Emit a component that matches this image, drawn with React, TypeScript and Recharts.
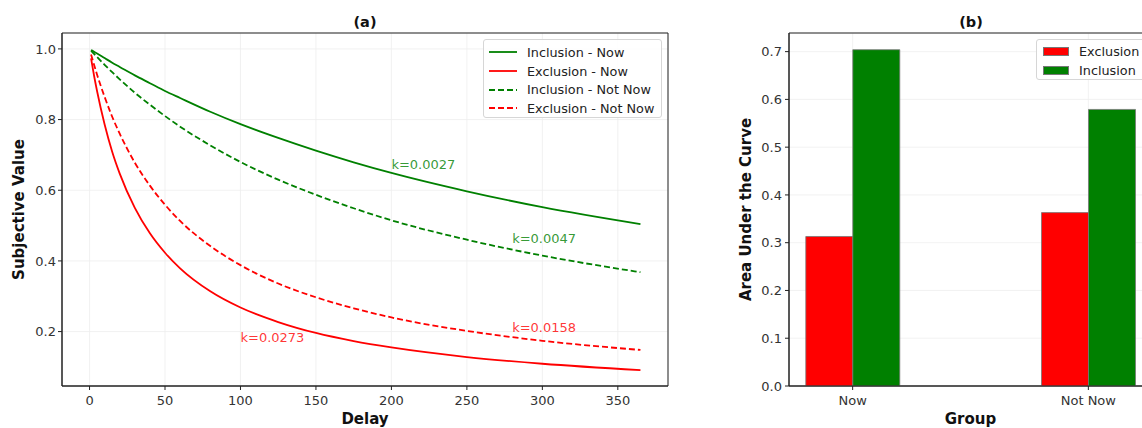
import React from 'react';
import {
  LineChart,
  Line,
  BarChart,
  Bar,
  XAxis,
  YAxis,
  CartesianGrid,
  ReferenceArea,
  ReferenceDot,
  Legend,
  Label,
} from 'recharts';

// delay in days
const delays = [1, 3, 5, 10, 15, 20, 30, 40, 50, 60, 80, 100, 125, 150, 175, 200, 250, 300, 365];
const inclusionNow = [0.997, 0.992, 0.987, 0.974, 0.961, 0.949, 0.925, 0.903, 0.881, 0.861, 0.822, 0.787, 0.748, 0.712, 0.679, 0.649, 0.597, 0.552, 0.504];
const exclusionNow = [0.973, 0.924, 0.88, 0.786, 0.709, 0.647, 0.55, 0.478, 0.423, 0.379, 0.314, 0.268, 0.227, 0.196, 0.173, 0.155, 0.128, 0.109, 0.091];
const inclusionNotNow = [0.995, 0.986, 0.977, 0.955, 0.934, 0.914, 0.876, 0.842, 0.81, 0.78, 0.727, 0.68, 0.63, 0.587, 0.549, 0.515, 0.46, 0.415, 0.368];
const exclusionNotNow = [0.984, 0.955, 0.927, 0.864, 0.808, 0.76, 0.678, 0.613, 0.559, 0.513, 0.442, 0.388, 0.336, 0.297, 0.266, 0.24, 0.202, 0.174, 0.148];

const kNotes = [
  { text: 'k=0.0027', delay: 200, value: 0.661, color: 'green' },
  { text: 'k=0.0047', delay: 280, value: 0.452, color: 'green' },
  { text: 'k=0.0158', delay: 280, value: 0.199, color: 'red' },
  { text: 'k=0.0273', delay: 100, value: 0.17, color: 'red' },
];

// panel (b)
const groups = ['Now', 'Not Now'];
const aucExclusion = [0.313, 0.363];
const aucInclusion = [0.704, 0.579];

const GREEN = '#008000';
const RED = '#ff0000';
const FONT = '"DejaVu Sans", sans-serif';
const tickStyle = { fontSize: 13, fill: '#333', fontFamily: FONT };
const titleStyle = { fontSize: 15, fontWeight: 700, fill: '#111', fontFamily: FONT };

const lineData = delays.map((d, i) => ({
  delay: d,
  inNow: inclusionNow[i],
  exNow: exclusionNow[i],
  inNot: inclusionNotNow[i],
  exNot: exclusionNotNow[i],
}));

const barData = groups.map((g, i) => ({
  pos: i,
  name: g,
  exclusion: aucExclusion[i],
  inclusion: aucInclusion[i],
}));

const lineSeries = [
  { key: 'inNow', name: 'Inclusion - Now', color: GREEN, dash: undefined },
  { key: 'exNow', name: 'Exclusion - Now', color: RED, dash: undefined },
  { key: 'inNot', name: 'Inclusion - Not Now', color: GREEN, dash: '6 3' },
  { key: 'exNot', name: 'Exclusion - Not Now', color: RED, dash: '6 3' },
];

const xTitle = (text: string) => (props: any) => {
  const vb = props.viewBox || {};
  return (
    <text x={vb.x + vb.width / 2} y={vb.y + vb.height - 4} textAnchor="middle" style={titleStyle}>
      {text}
    </text>
  );
};

const yTitle = (text: string, cx: number) => (props: any) => {
  const vb = props.viewBox || {};
  const cy = vb.y + vb.height / 2;
  return (
    <text
      x={cx}
      y={cy}
      transform={`rotate(-90 ${cx} ${cy})`}
      textAnchor="middle"
      dominantBaseline="central"
      style={titleStyle}
    >
      {text}
    </text>
  );
};

const noteLabel = (text: string, color: string) => (props: any) => {
  const vb = props.viewBox || {};
  return (
    <text x={vb.x} y={vb.y} fill={color} fillOpacity={0.8} fontSize={13} fontFamily={FONT}>
      {text}
    </text>
  );
};

const legendBox = {
  boxSizing: 'border-box' as const,
  border: '1px solid #d6d6d6',
  borderRadius: 3,
  background: 'rgba(255,255,255,0.85)',
  fontSize: 12.8,
  fontFamily: FONT,
  color: '#222',
};

const LineLegend = () => (
  <div style={{ ...legendBox, width: 179, height: 79, padding: '3px 0 0 5px' }}>
    {lineSeries.map((s) => (
      <div key={s.key} style={{ display: 'flex', alignItems: 'center', height: 18.7 }}>
        <svg width={28} height={10}>
          <line x1={0} y1={5} x2={28} y2={5} stroke={s.color} strokeWidth={1.8} strokeDasharray={s.dash} />
        </svg>
        <span style={{ marginLeft: 10, whiteSpace: 'nowrap' }}>{s.name}</span>
      </div>
    ))}
  </div>
);

const BarLegend = () => (
  <div style={{ ...legendBox, width: 120, height: 41, padding: '2px 0 0 6px' }}>
    {[
      { name: 'Exclusion', color: RED },
      { name: 'Inclusion', color: GREEN },
    ].map((s) => (
      <div key={s.name} style={{ display: 'flex', alignItems: 'center', height: 18.7 }}>
        <div style={{ width: 26, height: 9, background: s.color, border: '1px solid #777', boxSizing: 'border-box' }} />
        <span style={{ marginLeft: 10 }}>{s.name}</span>
      </div>
    ))}
  </div>
);

const titleDiv = (left: number) => ({
  position: 'absolute' as const,
  left,
  top: 13,
  width: 60,
  textAlign: 'center' as const,
  fontSize: 14.5,
  fontWeight: 700,
  fontFamily: FONT,
  color: '#111',
  lineHeight: '18px',
});

export default function App() {
  return (
    <div style={{ position: 'absolute', left: 0, top: 0, width: 1142, height: 428, overflow: 'hidden', background: '#fff' }}>
      <div style={titleDiv(335)}>(a)</div>
      <div style={titleDiv(941)}>(b)</div>

      <div style={{ position: 'absolute', left: 0, top: 0 }}>
        <LineChart width={690} height={428} data={lineData} margin={{ top: 33, right: 22, bottom: 0, left: 0 }}>
          <CartesianGrid stroke="#ededed" strokeWidth={0.8} />
          <XAxis
            dataKey="delay"
            type="number"
            domain={[-18.25, 383.25]}
            ticks={[0, 50, 100, 150, 200, 250, 300, 350]}
            allowDataOverflow
            height={42}
            tick={tickStyle}
            tickSize={4}
            tickMargin={6}
            stroke="#222"
          >
            <Label content={xTitle('Delay')} />
          </XAxis>
          <YAxis
            type="number"
            domain={[0.046, 1.045]}
            ticks={[0.2, 0.4, 0.6, 0.8, 1.0]}
            allowDataOverflow
            width={62}
            tick={tickStyle}
            tickSize={4}
            tickMargin={2}
            tickFormatter={(v: number) => v.toFixed(1)}
            stroke="#222"
          >
            <Label content={yTitle('Subjective Value', 18.5)} />
          </YAxis>
          {lineSeries.map((s) => (
            <Line
              key={s.key}
              type="monotone"
              dataKey={s.key}
              name={s.name}
              stroke={s.color}
              strokeWidth={1.8}
              strokeDasharray={s.dash}
              dot={false}
              isAnimationActive={false}
            />
          ))}
          {kNotes.map((n) => (
            <ReferenceDot
              key={n.text}
              x={n.delay}
              y={n.value}
              r={0}
              fill="none"
              stroke="none"
              label={noteLabel(n.text, n.color === 'green' ? GREEN : RED)}
            />
          ))}
          <ReferenceArea x1={-18.25} x2={383.25} y1={0.046} y2={1.045} fill="none" stroke="#222" strokeWidth={1} />
          <Legend
            layout="vertical"
            align="center"
            verticalAlign="middle"
            wrapperStyle={{ left: 483, top: 39, width: 179 }}
            content={() => <LineLegend />}
          />
        </LineChart>
      </div>

      <div style={{ position: 'absolute', left: 700, top: 0 }}>
        <BarChart width={470} height={428} data={barData} barGap={0} margin={{ top: 33, right: 18, bottom: 0, left: 0 }}>
          <CartesianGrid stroke="#efefef" strokeWidth={0.8} />
          <XAxis
            dataKey="pos"
            type="number"
            domain={[-0.27, 1.27]}
            ticks={[0, 1]}
            allowDataOverflow
            height={42}
            tick={tickStyle}
            tickSize={4}
            tickMargin={6}
            tickFormatter={(v: number) => groups[v] ?? ''}
            stroke="#222"
          >
            <Label content={xTitle('Group')} />
          </XAxis>
          <YAxis
            type="number"
            domain={[0, 0.739]}
            ticks={[0, 0.1, 0.2, 0.3, 0.4, 0.5, 0.6, 0.7]}
            allowDataOverflow
            width={89}
            tick={tickStyle}
            tickSize={4}
            tickMargin={3}
            tickFormatter={(v: number) => v.toFixed(1)}
            stroke="#222"
          >
            <Label content={yTitle('Area Under the Curve', 46)} />
          </YAxis>
          <Bar dataKey="exclusion" name="Exclusion" fill={RED} stroke="#777" strokeWidth={0.8} barSize={47} isAnimationActive={false} />
          <Bar dataKey="inclusion" name="Inclusion" fill={GREEN} stroke="#777" strokeWidth={0.8} barSize={47} isAnimationActive={false} />
          <ReferenceArea x1={-0.27} x2={1.27} y1={0} y2={0.739} fill="none" stroke="#222" strokeWidth={1} />
          <Legend
            layout="vertical"
            align="center"
            verticalAlign="middle"
            wrapperStyle={{ left: 336, top: 39, width: 120 }}
            content={() => <BarLegend />}
          />
        </BarChart>
      </div>
    </div>
  );
}
